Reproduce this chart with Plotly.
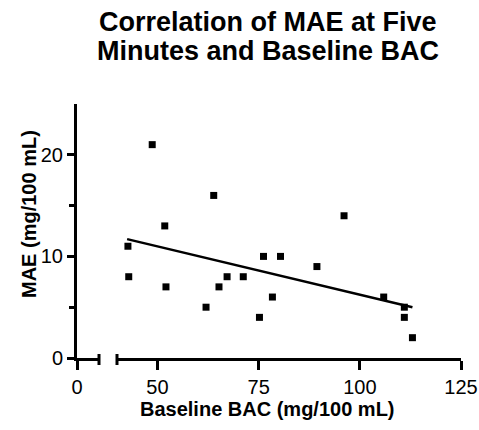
import plotly.graph_objects as go

# Data
bac = [48.7, 63.9, 51.8, 42.7, 42.9, 52.1, 62.0, 65.2, 67.2, 71.2,
       75.2, 76.2, 80.4, 78.4, 89.4, 96.1, 105.9, 111.0, 111.0, 113.0]
mae = [21, 16, 13, 11, 8, 7, 5, 7, 8, 8,
       4, 10, 10, 6, 9, 14, 6, 5, 4, 2]
fit_x = [42.5, 113.0]
fit_y = [11.7, 5.0]
x_ticks = [50, 75, 100, 125]
y_ticks = [0, 10, 20]
y_minor = [5, 15]

FONT = "Liberation Sans, Arial, sans-serif"

fig = go.Figure()
fig.add_trace(go.Scatter(x=bac, y=mae, mode="markers", xaxis="x2", yaxis="y",
                         marker=dict(symbol="square", size=7, color="black"),
                         showlegend=False, hoverinfo="x+y"))
fig.add_trace(go.Scatter(x=fit_x, y=fit_y, mode="lines", xaxis="x2", yaxis="y",
                         line=dict(color="black", width=2.5),
                         showlegend=False))
# invisible trace to make the first axis segment render
fig.add_trace(go.Scatter(x=[0], y=[0], mode="markers", xaxis="x", yaxis="y",
                         marker=dict(opacity=0), showlegend=False, hoverinfo="skip"))

W, H = 479, 430
# plot area in page pixels: x 77..461, y 104..358
L, T = 77, 104
R = W - 461
B = H - 358
pw = W - L - R
ph = H - T - B
seg1_end = 22 / pw
seg2_start = 40 / pw


def px_x(x):
    return (x - L) / pw


def px_y(y):
    return (H - B - y) / ph


axis_common = dict(showgrid=False, zeroline=False, showline=True, linecolor="black",
                   linewidth=3, ticks="outside", tickcolor="black", tickwidth=2.5,
                   automargin=False,
                   tickfont=dict(family=FONT, size=20, color="black"))

title_font = dict(family=FONT, size=27, color="black")

fig.update_layout(
    width=W, height=H,
    margin=dict(l=L, r=R, t=T, b=B, autoexpand=False),
    paper_bgcolor="white", plot_bgcolor="white",
    xaxis=dict(domain=[0, seg1_end], range=[0, 5], tickvals=[0], ticktext=["0"],
               ticklen=9, anchor="y", **axis_common),
    xaxis2=dict(domain=[seg2_start, 1], range=[40, 125], tickvals=x_ticks,
                ticklen=9, anchor="y", **axis_common),
    yaxis=dict(range=[0, 25], tickvals=y_ticks, ticklen=7, anchor="x",
               minor=dict(tickvals=y_minor, ticklen=5, ticks="outside",
                          tickcolor="black", tickwidth=2.5),
               **axis_common),
    annotations=[
        dict(text="<b>Correlation of MAE at Five</b>", xref="paper", yref="paper",
             x=px_x(268), y=px_y(22), xanchor="center", yanchor="middle",
             showarrow=False, font=title_font),
        dict(text="<b>Minutes and Baseline BAC</b>", xref="paper", yref="paper",
             x=px_x(268), y=px_y(51), xanchor="center", yanchor="middle",
             showarrow=False, font=title_font),
        dict(text="<b>MAE (mg/100 mL)</b>", xref="paper", yref="paper",
             x=px_x(29), y=px_y(214), xanchor="center", yanchor="middle",
             textangle=-90, showarrow=False,
             font=dict(family=FONT, size=20, color="black")),
        dict(text="<b>Baseline BAC (mg/100 mL)</b>", xref="paper", yref="paper",
             x=px_x(267), y=px_y(409), xanchor="center", yanchor="middle",
             showarrow=False, font=dict(family=FONT, size=20, color="black")),
    ],
    shapes=[
        dict(type="line", xref="x domain", yref="paper", x0=1, x1=1,
             y0=-7 / ph, y1=4 / ph, line=dict(color="black", width=3)),
        dict(type="line", xref="x2 domain", yref="paper", x0=0, x1=0,
             y0=-7 / ph, y1=4 / ph, line=dict(color="black", width=3)),
    ],
)

fig.write_html("out.html",
               config={"displayModeBar": False},
               post_script="document.body.style.margin='0';"
                           "document.body.style.overflow='hidden';")
